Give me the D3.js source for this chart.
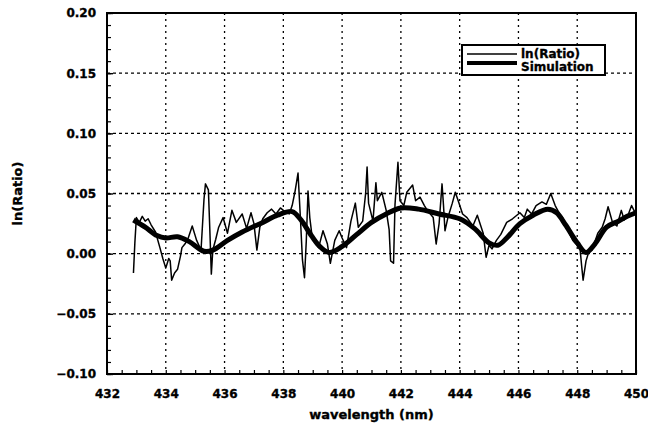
<!DOCTYPE html>
<html>
<head>
<meta charset="utf-8">
<script src="https://cdn.jsdelivr.net/npm/d3@7"></script>
<style>
  body { margin: 0; background: #fff; }
  text { font-family: "DejaVu Sans", sans-serif; font-weight: bold; stroke: #000; stroke-width: 0.35px; }
</style>
</head>
<body>
<div id="chart"></div>
<script>
// ln(Ratio) measured trace (wavelength nm, value)
var ratioWl = [432.9, 432.95, 433.0, 433.1, 433.2, 433.3, 433.4, 433.5, 433.65, 433.8, 433.9, 434.0, 434.1, 434.15, 434.2, 434.3, 434.4, 434.5, 434.55, 434.65, 434.75, 434.9, 435.0, 435.05, 435.2, 435.3, 435.35, 435.45, 435.5, 435.55, 435.6, 435.7, 435.8, 435.95, 436.1, 436.25, 436.4, 436.6, 436.75, 436.9, 437.0, 437.1, 437.2, 437.3, 437.45, 437.6, 437.75, 437.9, 438.05, 438.2, 438.3, 438.4, 438.5, 438.58, 438.65, 438.72, 438.78, 438.84, 438.9, 438.97, 439.1, 439.2, 439.35, 439.5, 439.6, 439.75, 439.9, 440.0, 440.15, 440.3, 440.45, 440.55, 440.7, 440.8, 440.85, 440.9, 441.05, 441.15, 441.2, 441.35, 441.5, 441.6, 441.65, 441.75, 441.8, 441.9, 441.97, 442.1, 442.2, 442.4, 442.5, 442.65, 442.8, 442.9, 443.1, 443.2, 443.3, 443.4, 443.45, 443.5, 443.6, 443.75, 443.85, 443.95, 444.1, 444.25, 444.45, 444.6, 444.8, 444.9, 445.0, 445.1, 445.25, 445.4, 445.6, 445.8, 446.05, 446.2, 446.3, 446.45, 446.6, 446.8, 446.95, 447.1, 447.25, 447.4, 447.5, 447.65, 447.85, 448.0, 448.1, 448.15, 448.2, 448.3, 448.4, 448.5, 448.6, 448.7, 448.85, 448.95, 449.05, 449.2, 449.35, 449.5, 449.6, 449.7, 449.85, 449.95, 450.0];
var ratioVal = [-0.016, 0.010, 0.030, 0.026, 0.031, 0.027, 0.029, 0.024, 0.018, 0.005, -0.004, -0.012, -0.004, -0.006, -0.022, -0.016, -0.013, -0.002, 0.005, 0.008, 0.012, 0.023, 0.015, 0.011, 0.003, 0.045, 0.058, 0.053, 0.019, -0.017, 0.003, 0.012, 0.022, 0.030, 0.017, 0.036, 0.026, 0.033, 0.021, 0.034, 0.025, 0.003, 0.022, 0.029, 0.034, 0.037, 0.033, 0.038, 0.035, 0.033, 0.040, 0.052, 0.067, 0.030, -0.005, -0.020, 0.010, 0.052, 0.030, 0.016, 0.010, 0.005, 0.019, 0.008, -0.008, 0.011, 0.019, 0.013, 0.005, 0.027, 0.042, 0.022, 0.027, 0.050, 0.072, 0.042, 0.027, 0.059, 0.044, 0.051, 0.036, 0.020, -0.006, -0.008, 0.041, 0.076, 0.044, 0.040, 0.051, 0.057, 0.044, 0.047, 0.040, 0.036, 0.030, 0.008, 0.025, 0.058, 0.040, 0.019, 0.030, 0.042, 0.051, 0.044, 0.033, 0.030, 0.023, 0.032, 0.017, -0.003, 0.007, 0.004, 0.011, 0.016, 0.026, 0.029, 0.034, 0.030, 0.037, 0.033, 0.040, 0.043, 0.041, 0.050, 0.040, 0.033, 0.030, 0.021, 0.011, 0.007, 0.003, -0.010, -0.022, -0.006, 0.002, 0.003, 0.010, 0.017, 0.022, 0.029, 0.039, 0.026, 0.023, 0.036, 0.028, 0.030, 0.040, 0.035, 0.036];

// Simulation (smooth curve)
var simWl = [432.9, 433.3, 433.7, 434.0, 434.4, 434.8, 435.3, 435.6, 436.1, 436.6, 437.3, 437.8, 438.3, 438.6, 438.9, 439.2, 439.55, 440.0, 440.5, 441.0, 441.5, 442.0, 442.6, 443.3, 444.0, 444.5, 445.0, 445.3, 445.6, 446.05, 446.5, 447.0, 447.3, 447.6, 448.0, 448.3, 448.6, 449.0, 449.4, 449.7, 450.0];
var simVal = [0.028, 0.022, 0.015, 0.013, 0.014, 0.010, 0.002, 0.003, 0.011, 0.018, 0.026, 0.032, 0.035, 0.028, 0.017, 0.007, 0.001, 0.006, 0.016, 0.026, 0.033, 0.038, 0.037, 0.033, 0.029, 0.021, 0.009, 0.007, 0.013, 0.025, 0.032, 0.037, 0.034, 0.024, 0.009, 0.001, 0.008, 0.022, 0.027, 0.031, 0.034];

var xTicks = [432, 434, 436, 438, 440, 442, 444, 446, 448, 450];
var yTicks = [-0.10, -0.05, 0.00, 0.05, 0.10, 0.15, 0.20];
var legendLabels = ["ln(Ratio)", "Simulation"];

var width = 648, height = 431;
var margin = {top: 13, right: 12, bottom: 57, left: 107};

var x = d3.scaleLinear().domain([432, 450]).range([margin.left, width - margin.right]);
var y = d3.scaleLinear().domain([-0.10, 0.20]).range([height - margin.bottom, margin.top]);

var svg = d3.select("#chart").append("svg")
  .attr("width", width)
  .attr("height", height);

// dotted grid
svg.append("g")
  .selectAll("line")
  .data(xTicks.slice(1, -1))
  .join("line")
    .attr("x1", d => x(d)).attr("x2", d => x(d))
    .attr("y1", y(0.20)).attr("y2", y(-0.10))
    .attr("stroke", "#000").attr("stroke-width", 1.3)
    .attr("stroke-dasharray", "2,4");

svg.append("g")
  .selectAll("line")
  .data(yTicks.slice(1, -1))
  .join("line")
    .attr("x1", x(432)).attr("x2", x(450))
    .attr("y1", d => y(d)).attr("y2", d => y(d))
    .attr("stroke", "#000").attr("stroke-width", 1.3)
    .attr("stroke-dasharray", "3,3");

// axes labels, ticks drawn separately (inward)
var xAxis = d3.axisBottom(x).tickValues(xTicks).tickSize(0).tickPadding(15)
  .tickFormat(d3.format("d"));
var yAxis = d3.axisLeft(y).tickValues(yTicks).tickSize(0).tickPadding(11)
  .tickFormat(d3.format(".2f"));

var gx = svg.append("g")
  .attr("transform", `translate(0,${y(-0.10)})`)
  .call(xAxis);
gx.select(".domain").remove();
gx.selectAll("text").attr("font-size", 12).attr("font-family", "DejaVu Sans").attr("font-weight", "bold");

var gy = svg.append("g")
  .attr("transform", `translate(${x(432)},0)`)
  .call(yAxis);
gy.select(".domain").remove();
gy.selectAll("text").attr("font-size", 12).attr("font-family", "DejaVu Sans").attr("font-weight", "bold");

// minor ticks
svg.append("g")
  .call(d3.axisBottom(x).ticks(45).tickSize(-4).tickFormat(""))
  .attr("transform", `translate(0,${y(-0.10)})`)
  .call(g => g.select(".domain").remove())
  .call(g => g.selectAll("line").attr("stroke-width", 1.2));
svg.append("g")
  .call(d3.axisLeft(y).ticks(30).tickSize(-4).tickFormat(""))
  .attr("transform", `translate(${x(432)},0)`)
  .call(g => g.select(".domain").remove())
  .call(g => g.selectAll("line").attr("stroke-width", 1.2));
svg.append("g")
  .call(d3.axisLeft(y).tickValues(yTicks).tickSize(-6).tickFormat(""))
  .attr("transform", `translate(${x(432)},0)`)
  .call(g => g.select(".domain").remove())
  .call(g => g.selectAll("line").attr("stroke-width", 1.4));

// frame
svg.append("rect")
  .attr("x", x(432)).attr("y", y(0.20))
  .attr("width", x(450) - x(432)).attr("height", y(-0.10) - y(0.20))
  .attr("fill", "none").attr("stroke", "#000").attr("stroke-width", 2);

// data lines
var ratioData = ratioWl.map((d, i) => [d, ratioVal[i]]);
var simData = simWl.map((d, i) => [d, simVal[i]]);

svg.append("path")
  .datum(ratioData)
  .attr("fill", "none")
  .attr("stroke", "#000")
  .attr("stroke-width", 1.5)
  .attr("stroke-linejoin", "round")
  .attr("d", d3.line().x(d => x(d[0])).y(d => y(d[1])));

svg.append("path")
  .datum(simData)
  .attr("fill", "none")
  .attr("stroke", "#000")
  .attr("stroke-width", 5)
  .attr("stroke-linejoin", "round")
  .attr("d", d3.line().curve(d3.curveCatmullRom).x(d => x(d[0])).y(d => y(d[1])));

// legend
var leg = svg.append("g");
leg.append("rect")
  .attr("x", 462).attr("y", 45).attr("width", 143).attr("height", 30)
  .attr("fill", "#fff").attr("stroke", "#000").attr("stroke-width", 2);
leg.selectAll("line")
  .data(legendLabels)
  .join("line")
    .attr("x1", 467).attr("x2", 517)
    .attr("y1", (d, i) => 54 + i * 9).attr("y2", (d, i) => 54 + i * 9)
    .attr("stroke", "#000")
    .attr("stroke-width", (d, i) => i ? 4 : 1.3);
leg.selectAll("text")
  .data(legendLabels)
  .join("text")
    .attr("x", 521)
    .attr("y", (d, i) => 58 + i * 13)
    .attr("font-size", 12)
    .text(d => d);

// axis titles
svg.append("text")
  .attr("x", (x(432) + x(450)) / 2)
  .attr("y", 419)
  .attr("text-anchor", "middle")
  .attr("font-size", 13)
  .text("wavelength (nm)");

svg.append("text")
  .attr("transform", `translate(22,${(y(0.20) + y(-0.10)) / 2}) rotate(-90)`)
  .attr("text-anchor", "middle")
  .attr("font-size", 13)
  .text("ln(Ratio)");
</script>
</body>
</html>
